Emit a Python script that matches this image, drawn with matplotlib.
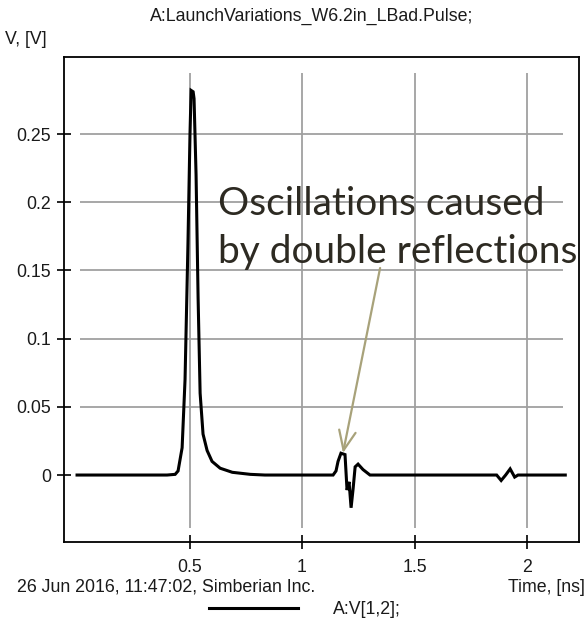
import matplotlib
matplotlib.use("Agg")
import matplotlib.pyplot as plt

# ---- data ----
time_ns = [0.0, 0.40, 0.436, 0.449, 0.467, 0.480, 0.493, 0.502, 0.507, 0.516, 0.520,
           0.529, 0.538, 0.547, 0.560, 0.578, 0.600, 0.636, 0.690, 0.770, 0.835,
           1.138, 1.151, 1.160, 1.173, 1.191, 1.200, 1.209, 1.218, 1.227, 1.236,
           1.249, 1.271, 1.302,
           1.865, 1.885, 1.905, 1.925, 1.945, 1.960, 2.170]
volt = [0.0, 0.0, 0.0005, 0.003, 0.020, 0.070, 0.170, 0.250, 0.282, 0.281, 0.276,
        0.220, 0.130, 0.060, 0.030, 0.018, 0.010, 0.005, 0.002, 0.0005, 0.0,
        0.0, 0.003, 0.010, 0.016, 0.015, -0.011, -0.005, -0.024, -0.010, 0.006,
        0.008, 0.004, 0.0,
        0.0, -0.004, 0.0, 0.0045, -0.0015, 0.0, 0.0]

x_ticks = [0.5, 1.0, 1.5, 2.0]
x_tick_labels = ["0.5", "1", "1.5", "2"]
y_ticks = [0.0, 0.05, 0.1, 0.15, 0.2, 0.25]
y_tick_labels = ["0", "0.05", "0.1", "0.15", "0.2", "0.25"]

title = "A:LaunchVariations_W6.2in_LBad.Pulse;"
y_label = "V, [V]"
x_label = "Time, [ns]"
footer = "26 Jun 2016, 11:47:02, Simberian Inc."
series_name = "A:V[1,2];"
note_lines = ["Oscillations caused", "by double reflections"]

W, H = 585, 627
fig = plt.figure(figsize=(W / 100, H / 100), dpi=100)
ax = fig.add_axes([64 / W, 1 - 542 / H, (579 - 64) / W, (542 - 57) / H])
ax.set_xlim(-0.058, 2.231)
ax.set_ylim(-0.0491, 0.3065)

font = "Liberation Sans"
fs = 12.8
tcol = "#1a1a1a"
gcol = "#a0a0a0"

# partial grid lines like the reference
ax.vlines(x_ticks, -0.039, 0.295, colors=gcol, linewidth=1.3, zorder=1)
ax.hlines(y_ticks[1:], 0.013, 2.16, colors=gcol, linewidth=1.3, zorder=1)

line, = ax.plot(time_ns, volt, color="black", linewidth=2.2, zorder=3,
                solid_joinstyle="miter")

ax.set_xticks(x_ticks)
ax.set_xticklabels(x_tick_labels, fontname=font, fontsize=fs)
ax.set_yticks(y_ticks)
ax.set_yticklabels(y_tick_labels, fontname=font, fontsize=fs)
ax.tick_params(direction="inout", length=10, width=1.2, color="black",
               labelcolor=tcol)
ax.tick_params(axis="y", pad=4.5)
ax.tick_params(axis="x", pad=7)
for s in ax.spines.values():
    s.set_linewidth(1.3)
    s.set_color("black")

fig.text(312 / W, 1 - 16 / H, title, ha="center", va="center",
         fontname=font, fontsize=fs, color=tcol)
fig.text(5 / W, 1 - 40 / H, y_label, ha="left", va="center",
         fontname=font, fontsize=fs, color=tcol)
fig.text(17 / W, 1 - 587 / H, footer, ha="left", va="center",
         fontname=font, fontsize=fs, color=tcol)
fig.text(585 / W, 1 - 588 / H, x_label, ha="right", va="center",
         fontname=font, fontsize=fs, color=tcol)

leg = fig.legend([line], [series_name], loc="center left",
                 bbox_to_anchor=(200 / W, 1 - 610 / H), frameon=False,
                 handlelength=5.0, handletextpad=2.0, borderpad=0,
                 prop={"family": font, "size": fs})
for t in leg.get_texts():
    t.set_color(tcol)

# annotation: text lines + arrow
note_x = 218 / W
for txt, base_y in zip(note_lines, [215, 263]):
    fig.text(note_x, 1 - base_y / H, txt, ha="left", va="baseline",
             fontsize=28, fontfamily="Lato", color="#2d2a22", zorder=6)

ax.annotate("", xy=(1.182, 0.0161), xytext=(1.347, 0.1518),
            textcoords="data", annotation_clip=False,
            arrowprops=dict(arrowstyle="->,head_length=1.4,head_width=0.6",
                            mutation_scale=10, color="#a8a27a",
                            linewidth=1.6, shrinkA=0, shrinkB=0),
            zorder=5)

fig.savefig("out.png", dpi=100)
